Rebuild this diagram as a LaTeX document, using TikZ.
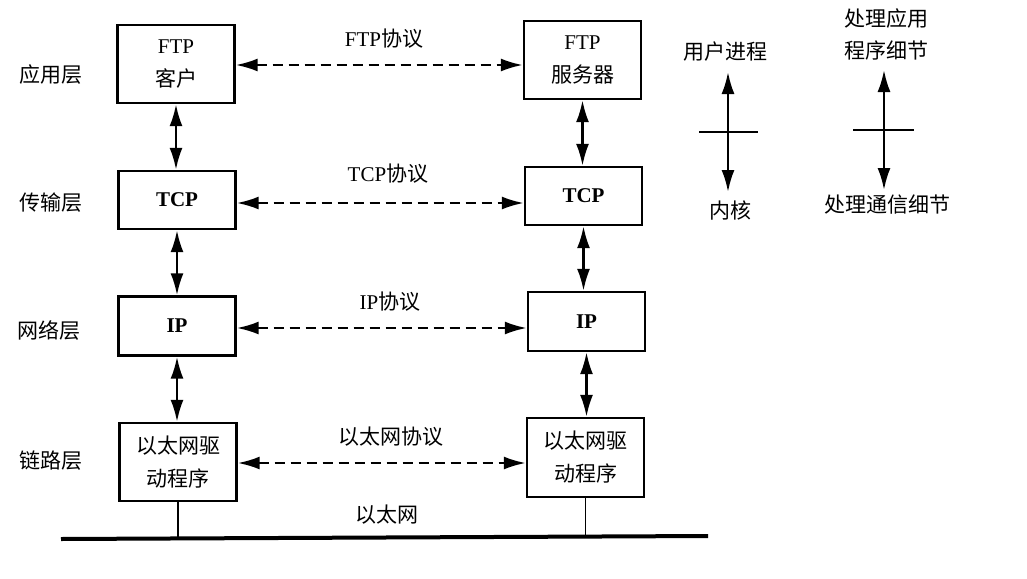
\documentclass[tikz,border=0pt]{standalone}
\usepackage{fontspec}
\setmainfont{Liberation Serif}
\newfontfamily\cjkf{Noto Sans CJK SC}
\usetikzlibrary{arrows.meta}
\newcommand\zhs[1]{{\cjkf #1}}
\begin{document}
\begin{tikzpicture}[x=1pt,y=-1pt,
  box/.style={draw, line width=2.4pt, minimum width=117pt, align=center, inner sep=0pt,
    font=\fontsize{21}{33}\selectfont},
  lay/.style={font=\fontsize{21}{24}\selectfont\cjkf, inner sep=0pt},
  plab/.style={font=\fontsize{21}{24}\selectfont, inner sep=0pt},
  hd/.tip={Latex[length=22pt,width=13pt]},
  va/.style={line width=2.4pt, hd-hd},
  ha/.style={line width=2.4pt, dash pattern=on 10pt off 6pt, hd-hd},
  tick/.style={line width=2.4pt},
  bus/.style={line width=4pt},
  drop/.style={line width=1.6pt}]
\useasboundingbox (0,0) rectangle (1027,578);
% layer labels
\node[lay] (l1) at (51,75) {应用层};
\node[lay] (l2) at (51,203) {传输层};
\node[lay] (l3) at (49,330) {网络层};
\node[lay] (l4) at (51,461) {链路层};
% left column
\node[box, minimum height=78pt] (ftpc) at (176,64) {FTP\\\zhs{客户}};
\node[box, minimum height=58pt] (tcpc) at (177,200) {\textbf{TCP}};
\node[box, minimum height=59pt] (ipc) at (177,326) {\textbf{IP}};
\node[box, minimum height=78pt] (ethc) at (178,462) {\zhs{以太网驱}\\\zhs{动程序}};
% right column
\node[box, minimum height=78pt] (ftps) at (582.5,60) {FTP\\\zhs{服务器}};
\node[box, minimum height=58pt] (tcps) at (583.5,196) {\textbf{TCP}};
\node[box, minimum height=59pt] (ips) at (586.5,321.5) {\textbf{IP}};
\node[box, minimum height=79pt] (eths) at (585.5,457.5) {\zhs{以太网驱}\\\zhs{动程序}};
% vertical arrows
\draw[va] (ftpc.south) -- (ftpc.south |- tcpc.north);
\draw[va] (tcpc.south) -- (tcpc.south |- ipc.north);
\draw[va] (ipc.south) -- (ipc.south |- ethc.north);
\draw[va] (ftps.south) -- (ftps.south |- tcps.north);
\draw[va] (tcps.south) -- (tcps.south |- ips.north);
\draw[va] (ips.south) -- (ips.south |- eths.north);
% peer protocols
\draw[ha] ([yshift=-1pt]ftpc.east) -- ([yshift=-1pt]ftpc.east -| ftps.west);
\draw[ha] ([yshift=-3pt]tcpc.east) -- ([yshift=-3pt]tcpc.east -| tcps.west);
\draw[ha] ([yshift=-2pt]ipc.east) -- ([yshift=-2pt]ipc.east -| ips.west);
\draw[ha] ([yshift=-1pt]ethc.east) -- ([yshift=-1pt]ethc.east -| eths.west);
\node[plab] (p1) at (384,39) {FTP\zhs{协议}};
\node[plab] (p2) at (388,174) {TCP\zhs{协议}};
\node[plab] (p3) at (390,302) {IP\zhs{协议}};
\node[plab] (p4) at (391,437) {\zhs{以太网协议}};
% ethernet bus
\coordinate (busL) at (61,539);
\coordinate (busR) at (708,536);
\draw[bus] (busL) -- (busR);
\draw[drop] (ethc.south) -- ++(0,38);
\draw[drop] (eths.south) -- ++(0,39);
\node[plab] (p5) at (387,515) {\zhs{以太网}};
% legend
\coordinate (a1t) at (728,72);
\coordinate (a1b) at (728,192);
\coordinate (c1l) at (699,132);
\coordinate (c1r) at (758,132);
\draw[va] (a1t) -- (a1b);
\draw[tick] (c1l) -- (c1r);
\node[lay] (u1) at (725,52) {用户进程};
\node[lay] (k1) at (730,210) {内核};
\coordinate (a2t) at (884,70);
\coordinate (a2b) at (884,190);
\coordinate (c2l) at (853,130);
\coordinate (c2r) at (914,130);
\draw[va] (a2t) -- (a2b);
\draw[tick] (c2l) -- (c2r);
\node[lay, align=center, font=\fontsize{21}{32}\selectfont\cjkf] (u2) at (886,34) {处理应用\\程序细节};
\node[lay] (k2) at (887,205) {处理通信细节};
\end{tikzpicture}
\end{document}
